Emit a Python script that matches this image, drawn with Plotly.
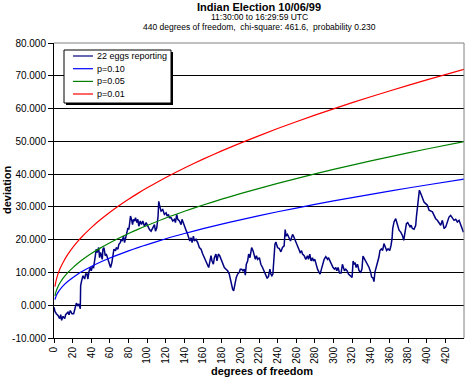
import plotly.graph_objects as go

# ---------------- data ----------------
title_text = "Indian Election 10/06/99"
subtitle_1 = "11:30:00 to 16:29:59 UTC"
subtitle_2 = "440 degrees of freedom,  chi-square: 461.6,  probability 0.230"

series_names = ["22 eggs reporting", "p=0.10", "p=0.05", "p=0.01"]

egg_df = [0, 1.0, 2.5, 4.3, 6.1, 7.2, 8.2, 9.7, 11.5, 12.5, 15.0, 16.1, 17.5, 19.3, 21.1, 22.9, 24.0, 25.7, 26.8, 28.2,
          28.6, 29.7, 31.1, 32.9, 34.0, 35.4, 36.4, 37.5, 39.0, 40.0, 41.1, 42.5, 43.6, 44.3, 45.4, 46.4, 47.9, 48.9, 50.0,
          51.8, 52.5, 53.6, 55.0, 56.1, 57.9, 59.6, 60.7, 62.1, 63.2, 64.3, 66.1, 66.8, 68.6, 69.6, 71.1, 72.1, 73.2, 74.6,
          75.7, 76.8, 78.2, 79.3, 80.3, 81.0, 82.1, 83.2, 84.3, 85.3, 86.4, 87.5, 88.9, 90.0, 91.0, 92.5, 93.9, 95.3, 97.1,
          98.9, 100.7, 102.5, 104.2, 106.0, 107.8, 108.9, 110.3, 111.7,
          112.4, 113.5, 114.9, 116.7, 118.5, 120.3, 121.4, 122.8, 123.9, 125.7, 127.4, 129.2, 130.3, 131.7, 132.8, 134.6,
          136.4, 137.4, 138.9, 140.7, 142.1, 143.5, 144.6, 145.7, 147.1, 148.2, 149.6, 150.6, 152.4, 154.2, 156.0, 157.8,
          159.6, 161.4, 163.1, 164.9, 166.0, 167.4, 168.5, 169.6, 171.0, 172.1, 173.8, 174.9, 176.4, 177.8, 179.2, 181.0,
          182.8, 184.6, 186.3, 188.1, 189.2, 190.6, 191.7, 192.8, 194.2, 195.6, 197.1, 198.8, 199.9, 201.4, 202.8, 204.2,
          205.3, 206.4, 207.8, 208.9, 210.3, 212.1, 213.6, 215.0, 216.1, 217.2, 218.6, 220.4,
          222.0, 223.8, 225.8, 227.4, 228.8, 230.2, 231.7, 232.7, 233.8, 234.9, 236.0, 237.1, 238.1, 239.9, 241.7, 243.5,
          245.2, 247.0, 248.1, 249.2, 250.6, 252.4, 253.8, 254.9, 256.0, 257.0, 258.5, 259.5, 261.3, 263.1, 264.2, 265.6,
          266.7, 268.5, 270.2, 272.0, 273.1, 274.5, 275.9, 277.4, 278.4, 279.9, 281.0, 282.8, 284.5, 285.6, 287.0, 288.1,
          289.9, 291.7, 293.5, 294.5, 296.0, 297.8, 299.5, 301.0, 302.4, 303.5, 304.9, 306.4, 308.1, 309.5, 310.6, 311.7,
          313.1, 314.6, 316.0, 317.4, 318.8, 319.9, 321.0, 322.1, 323.2, 324.2, 325.7,
          327.3, 329.1, 330.5, 331.6, 333.0, 334.4, 336.2, 338.0, 339.8, 340.9, 342.3, 343.4, 344.4, 345.9, 347.3, 348.7,
          349.8, 351.3, 352.7, 354.1, 355.6, 357.0, 358.5, 360.3, 361.7, 362.8, 363.5, 364.9, 366.7, 368.5, 370.3, 372.1,
          373.9, 375.3, 376.7, 378.2, 379.6, 381.0, 382.1, 383.2, 384.6, 386.4, 388.2, 388.9, 390.0, 391.1, 392.1, 393.6,
          395.4, 397.1, 398.9, 400.7, 402.5, 404.3, 406.1, 407.9, 409.6, 411.4, 413.2, 415.0, 416.8, 418.6, 420.4, 422.2,
          423.9, 425.7, 427.5, 429.3, 431.1, 432.9, 434.7, 436.5, 438.3, 439.4]
egg_dev = [-0.6, -1.9, -2.6, -3.1, -4.1, -2.9, -4.6, -3.4, -4.1, -2.9, -2.1, -2.9, -1.6, -2.6, -2.6, -0.9, 0.6, -0.1, 0.4, -1.1,
           6.0, 7.5, 9.0, 8.0, 9.5, 9.5, 8.0, 10.2, 11.5, 10.5, 11.7, 11.5, 13.5, 14.5, 17.1, 16.1, 17.6, 14.5, 16.1,
           14.0, 17.1, 17.6, 15.1, 15.6, 14.0, 12.5, 11.5, 13.0, 15.1, 17.1, 16.6, 17.6, 17.1, 18.6, 19.1, 20.1, 19.6, 21.1,
           19.1, 20.1, 22.1, 23.6, 23.1, 24.6, 27.2, 26.2, 24.6, 26.2, 25.7, 26.7, 25.2, 26.2, 24.1, 25.7, 24.6, 25.7, 24.1,
           25.2, 24.1, 23.1, 22.6, 23.6, 24.6, 22.6, 23.6, 27.2,
           31.7, 30.2, 28.7, 29.2, 27.7, 28.2, 27.2, 27.7, 26.7, 26.7, 25.7, 26.2, 25.2, 27.7, 26.2, 25.7,
           24.6, 26.2, 25.2, 24.1, 22.6, 21.6, 20.1, 19.6, 20.6, 19.1, 21.1, 19.6, 20.1, 19.1, 17.6, 17.1,
           15.6, 14.5, 13.5, 12.0, 11.5, 13.5, 15.1, 13.5, 12.5, 14.5, 15.6, 13.5, 15.6, 15.1, 14.0, 12.5,
           11.5, 11.0, 10.5, 9.5, 8.0, 6.5, 4.9, 4.4, 6.5, 8.5, 9.5, 10.0, 11.0, 11.0, 10.5, 11.0,
           9.2, 12.5, 13.5, 15.6, 14.5, 17.6, 16.6, 14.5, 14.0, 15.1, 14.0, 14.5,
           12.5, 11.5, 10.0, 8.8, 8.2, 8.8, 11.0, 9.5, 9.0, 9.5, 15.1, 18.6, 19.3, 17.6, 17.3, 16.3,
           17.6, 18.1, 23.1, 21.1, 21.6, 20.1, 19.6, 20.6, 21.6, 21.1, 20.1, 19.1, 18.1, 17.1, 16.1, 16.6,
           15.6, 15.1, 14.0, 15.1, 14.0, 15.6, 13.5, 14.5, 13.5, 14.0, 12.5, 11.0, 10.0, 9.5, 11.0, 12.5,
           14.0, 14.8, 14.0, 14.5, 13.5, 12.5, 11.5, 11.0, 11.5, 10.5, 11.5, 9.8, 9.8, 12.5, 11.0, 10.5,
           11.0, 10.5, 9.5, 9.2, 8.8, 8.5, 13.5, 12.5, 13.0, 11.5, 12.5,
           10.6, 9.9, 11.1, 15.0, 14.2, 13.7, 12.7, 11.6, 10.1, 8.6, 8.3, 7.2, 10.1, 12.1, 13.2, 14.7,
           16.7, 17.2, 16.7, 18.8, 17.8, 16.7, 17.2, 16.7, 18.3, 20.3, 23.4, 25.4, 26.4, 24.9, 22.9, 22.3,
           21.3, 19.8, 21.8, 24.9, 25.2, 24.4, 23.9, 24.4, 23.4, 23.2, 24.4, 26.9, 30.5, 33.1, 35.1, 34.1,
           32.6, 31.5, 31.0, 30.5, 29.0, 28.7, 28.5, 27.4, 26.4, 25.9, 24.9, 24.4, 25.9, 23.4, 23.9, 25.9,
           26.9, 27.4, 26.4, 25.9, 26.2, 25.4, 25.9, 24.4, 22.9, 22.3]

crit_df = [1, 2, 3, 5, 7, 10, 15, 20, 25, 30, 40, 50, 60, 70, 80, 90, 100, 120, 140, 160, 180, 200, 240, 280, 320, 360, 400, 440]
crit_p10 = [1.71, 2.61, 3.25, 4.24, 5.02, 5.99, 7.31, 8.41, 9.38, 10.26, 11.81, 13.17, 14.40, 15.53, 16.58, 17.57, 18.50,
            20.28, 21.88, 23.36, 24.75, 26.06, 28.51, 30.76, 32.85, 34.82, 36.68, 38.45]
crit_p05 = [2.84, 3.99, 4.81, 6.07, 7.07, 8.31, 10.00, 11.41, 12.65, 13.77, 15.76, 17.50, 19.08, 20.53, 21.88, 23.15, 24.34,
            26.62, 28.66, 30.56, 32.35, 34.04, 37.18, 40.07, 42.75, 45.28, 47.66, 49.93]
crit_p01 = [5.63, 7.21, 8.34, 10.09, 11.48, 13.21, 15.58, 17.57, 19.31, 20.89, 23.69, 26.15, 28.38, 30.43, 32.33, 34.12, 35.81,
            38.98, 41.87, 44.56, 47.08, 49.47, 53.91, 57.99, 61.79, 65.36, 68.74, 71.96]

x_ticks = list(range(0, 421, 20))
y_ticks = [-10, 0, 10, 20, 30, 40, 50, 60, 70, 80]
y_tick_labels = ["-10.000", "0.000", "10.000", "20.000", "30.000", "40.000", "50.000", "60.000", "70.000", "80.000"]

# ---------------- styling ----------------
colors = ["#000080", "#0000FF", "#008000", "#FF0000"]
FONT = "Liberation Sans, Arial, sans-serif"

W, H = 468, 380
L, R, T, B = 54, 464, 43, 338  # plot area in pixels


def px(xp):
    return (xp - L) / (R - L)


def py(yp):
    return (B - yp) / (B - T)


fig = go.Figure()
fig.add_trace(go.Scatter(x=egg_df, y=egg_dev, mode="lines", name=series_names[0],
                         line=dict(color=colors[0], width=1.5)))
for name, ys, c in zip(series_names[1:], [crit_p10, crit_p05, crit_p01], colors[1:]):
    fig.add_trace(go.Scatter(x=crit_df, y=ys, mode="lines", name=name,
                             line=dict(color=c, width=1.2, shape="spline", smoothing=0.6)))

shapes = [
    dict(type="line", xref="paper", yref="paper", x0=0, x1=1, y0=1, y1=1,
         line=dict(color="#808080", width=1), layer="above"),
    dict(type="line", xref="paper", yref="paper", x0=1, x1=1, y0=0, y1=1,
         line=dict(color="#808080", width=1), layer="above"),
    dict(type="rect", xref="paper", yref="paper", x0=px(66), x1=px(173), y0=py(105), y1=py(52),
         fillcolor="black", line=dict(width=0), layer="above"),
    dict(type="rect", xref="paper", yref="paper", x0=px(64), x1=px(171), y0=py(103), y1=py(50),
         fillcolor="white", line=dict(color="black", width=1), layer="above"),
]
annotations = []
entry_y = [56, 68.7, 81.4, 94]
for name, c, ey in zip(series_names, colors, entry_y):
    shapes.append(dict(type="line", xref="paper", yref="paper", x0=px(73), x1=px(93), y0=py(ey), y1=py(ey),
                       line=dict(color=c, width=1.2), layer="above"))
    annotations.append(dict(text=name, xref="paper", yref="paper", x=px(95), y=py(ey), xanchor="left",
                            yanchor="middle", showarrow=False, font=dict(size=9, family=FONT, color="black")))

annotations += [
    dict(text="<b>" + title_text + "</b>", xref="paper", yref="paper", x=px(259), y=py(7),
         xanchor="center", yanchor="middle", showarrow=False, font=dict(size=11, family=FONT)),
    dict(text=subtitle_1, xref="paper", yref="paper", x=px(259), y=py(17.3),
         xanchor="center", yanchor="middle", showarrow=False, font=dict(size=8.5, family=FONT)),
    dict(text=subtitle_2, xref="paper", yref="paper", x=px(259), y=py(27),
         xanchor="center", yanchor="middle", showarrow=False, font=dict(size=8.5, family=FONT)),
    dict(text="<b>degrees of freedom</b>", xref="paper", yref="paper", x=px(262), y=py(371),
         xanchor="center", yanchor="middle", showarrow=False, font=dict(size=11, family=FONT)),
    dict(text="<b>deviation</b>", xref="paper", yref="paper", x=px(7), y=py(190), textangle=-90,
         xanchor="center", yanchor="middle", showarrow=False, font=dict(size=11, family=FONT)),
]

fig.update_layout(
    width=W, height=H,
    margin=dict(l=L, r=W - R, t=T, b=H - B, pad=0),
    paper_bgcolor="white", plot_bgcolor="white",
    font=dict(family=FONT, color="black", size=10),
    showlegend=False,
    shapes=shapes, annotations=annotations,
    xaxis=dict(range=[0, 440], tickmode="array", tickvals=x_ticks, ticktext=[str(v) for v in x_ticks],
               tickangle=-90, ticks="outside", ticklen=4, tickcolor="black", showline=True,
               linecolor="black", linewidth=1, showgrid=False, zeroline=False,
               tickfont=dict(size=10, family=FONT), automargin=False, fixedrange=True),
    yaxis=dict(range=[-10, 80], tickmode="array", tickvals=y_ticks, ticktext=y_tick_labels,
               ticks="outside", ticklen=5, tickcolor="black", showline=True, linecolor="black",
               linewidth=1, showgrid=True, gridcolor="black", gridwidth=1, zeroline=False,
               tickfont=dict(size=10, family=FONT), automargin=False, fixedrange=True),
)

# remove default page margin so the 468x380 figure fills the window exactly
fig.write_html("out.html", config={"displayModeBar": False},
               post_script="document.body.style.margin='0px';document.body.style.overflow='hidden';")
